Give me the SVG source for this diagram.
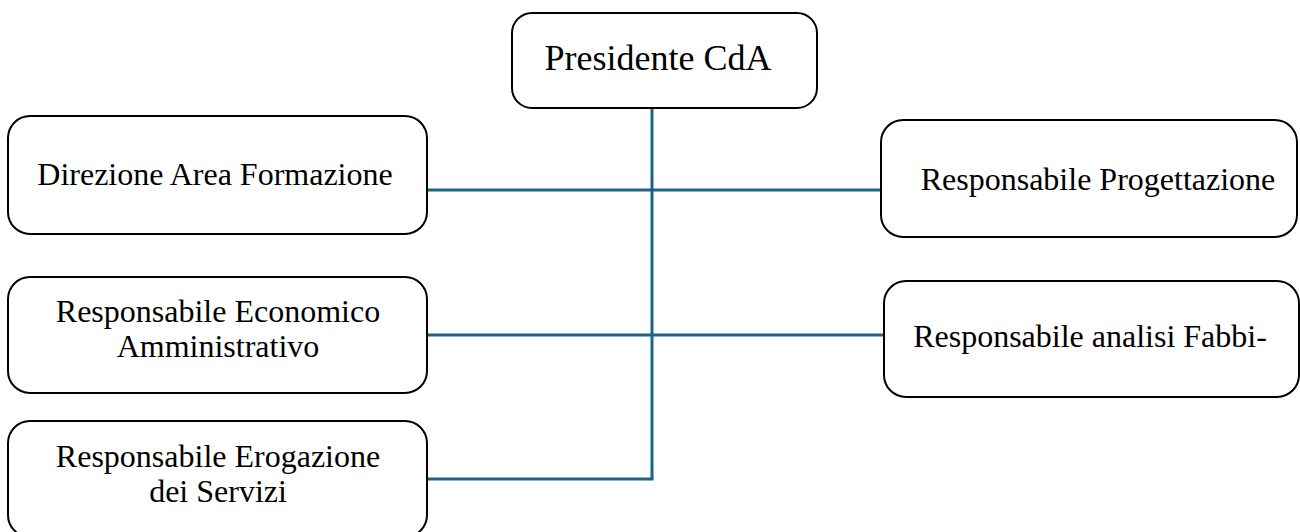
<svg xmlns="http://www.w3.org/2000/svg" width="1300" height="532" viewBox="0 0 1300 532">
<style>
.box{fill:#fff;stroke:#000;stroke-width:2}
.t{font-family:"Liberation Serif","Times New Roman",serif;font-size:32px;fill:#000;text-anchor:middle}
.big{font-size:36px}
.c{stroke:#1E6388;stroke-width:3;fill:none}
</style>
<rect width="1300" height="532" fill="#fff"/>
<g id="connectors">
<line class="c" x1="652" y1="108" x2="652" y2="479"/>
<line class="c" x1="427" y1="190" x2="881" y2="190"/>
<line class="c" x1="427" y1="335" x2="884" y2="335"/>
<line class="c" x1="427" y1="479" x2="653.5" y2="479"/>
</g>
<g id="presidente">
<rect class="box" x="512" y="13" width="305" height="95" rx="20"/>
<text class="t big" x="658" y="70">Presidente CdA</text>
</g>
<g id="direzione">
<rect class="box" x="8" y="116" width="419" height="118" rx="22"/>
<text class="t" x="215" y="185">Direzione Area Formazione</text>
</g>
<g id="progettazione">
<rect class="box" x="881" y="120" width="416" height="117" rx="22"/>
<text class="t" x="1098" y="190">Responsabile Progettazione</text>
</g>
<g id="economico">
<rect class="box" x="8" y="277" width="419" height="116" rx="22"/>
<text class="t" x="218" y="322">Responsabile Economico</text>
<text class="t" x="218" y="357">Amministrativo</text>
</g>
<g id="analisi">
<rect class="box" x="884" y="281" width="415" height="116" rx="22"/>
<text class="t" x="1090" y="347">Responsabile analisi Fabbi-</text>
</g>
<g id="erogazione">
<rect class="box" x="8" y="421" width="419" height="116" rx="22"/>
<text class="t" x="218" y="467">Responsabile Erogazione</text>
<text class="t" x="218" y="502">dei Servizi</text>
</g>
</svg>
